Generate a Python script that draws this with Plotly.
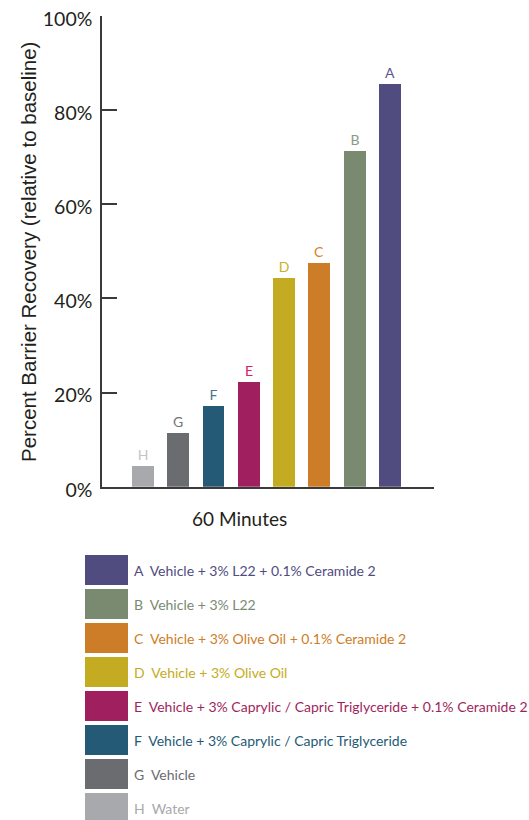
import plotly.graph_objects as go

# ---- data ----
categories = ["H", "G", "F", "E", "D", "C", "B", "A"]
values = [4.5, 11.5, 17.2, 22.2, 44.3, 47.6, 71.3, 85.6]
bar_colors = ["#a8a9ac", "#6b6c70", "#245a75", "#a01f5e", "#c4ac22", "#cd7d27", "#798a70", "#504c80"]
label_colors = ["#c4c5c8", "#737477", "#4a7591", "#d8205f", "#c9b024", "#d6822a", "#8a9a82", "#5a5690"]

legend_keys = ["A", "B", "C", "D", "E", "F", "G", "H"]
legend_texts = [
    "Vehicle + 3% L22 + 0.1% Ceramide 2",
    "Vehicle + 3% L22",
    "Vehicle + 3% Olive Oil + 0.1% Ceramide 2",
    "Vehicle + 3% Olive Oil",
    "Vehicle + 3% Caprylic / Capric Triglyceride + 0.1% Ceramide 2",
    "Vehicle + 3% Caprylic / Capric Triglyceride",
    "Vehicle",
    "Water",
]
legend_colors = ["#504c80", "#798a70", "#cd7d27", "#c4ac22", "#a01f5e", "#245a75", "#6b6c70", "#a8a9ac"]

y_tickvals = [0, 20, 40, 60, 80, 100]
y_ticktext = ["0%", "20%", "40%", "60%", "80%", "100%"]
x_title = "60 Minutes"
y_title = "Percent Barrier Recovery (relative to baseline)"

W, H = 529, 820
FONT = "Lato"
TITLE_FONT = "Liberation Sans"
AX = "#3a3a3a"
TXT = "#231f20"


def px(x):
    return x / W


def py(y):
    return 1 - y / H


fig = go.Figure()

fig.add_trace(go.Bar(
    x=list(range(len(categories))), y=values, width=0.62,
    marker=dict(color=bar_colors, line=dict(width=0)),
    text=categories, textposition="outside",
    textfont=dict(family=FONT, size=14, color=label_colors),
    constraintext="none", cliponaxis=False,
    xaxis="x", yaxis="y", showlegend=False, hoverinfo="skip",
))

# legend as a small horizontal bar subplot
fig.add_trace(go.Bar(
    x=[1] * len(legend_keys), y=list(range(len(legend_keys))), orientation="h",
    width=30 / 34, marker=dict(color=legend_colors, line=dict(width=0)),
    xaxis="x2", yaxis="y2", showlegend=False, hoverinfo="skip",
))

annotations = []
for i, (k, t, c) in enumerate(zip(legend_keys, legend_texts, legend_colors)):
    annotations.append(dict(
        xref="x2", yref="y2", x=1, y=i, xanchor="left", yanchor="middle",
        xshift=4, showarrow=False, text=k + "\u00a0\u00a0" + t,
        font=dict(family=FONT, size=14, color=c),
    ))

annotations.append(dict(
    xref="paper", yref="paper", x=px(239), y=py(518), xanchor="center", yanchor="middle",
    showarrow=False, text=x_title, font=dict(family=FONT, size=19, color=TXT),
))
annotations.append(dict(
    xref="paper", yref="paper", x=px(28), y=py(252), xanchor="center", yanchor="middle",
    showarrow=False, text=y_title, textangle=-90,
    font=dict(family=TITLE_FONT, size=20.5, color=TXT),
))

legend_top = 553
legend_rows = (H - legend_top) / 34

fig.update_layout(
    width=W, height=H,
    margin=dict(l=0, r=0, t=0, b=0, pad=0),
    paper_bgcolor="white", plot_bgcolor="white",
    showlegend=False,
    bargap=0,
    xaxis=dict(
        domain=[px(102), px(434)], range=[-1.16, 8.25], automargin=False,
        showline=True, linecolor=AX, linewidth=1.5,
        ticks="inside", tickvals=[8.24], ticklen=11, tickwidth=1.5, tickcolor=AX,
        showticklabels=False, showgrid=False, zeroline=False, fixedrange=True,
    ),
    yaxis=dict(
        domain=[py(486.7), py(15.7)], range=[0, 100], automargin=False,
        showline=True, linecolor=AX, linewidth=1.5,
        ticks="inside", tickvals=y_tickvals, ticktext=y_ticktext, ticklen=15,
        tickwidth=1.5, tickcolor=AX, ticklabelstandoff=4, ticklabeloverflow="allow",
        ticklabelshift=3,
        tickfont=dict(family=FONT, size=19.5, color=TXT),
        showgrid=False, zeroline=False, fixedrange=True,
    ),
    xaxis2=dict(
        domain=[px(85), px(128)], range=[0, 1], anchor="y2", visible=False,
        automargin=False, fixedrange=True,
    ),
    yaxis2=dict(
        domain=[0, py(legend_top)], range=[-0.5 + legend_rows, -0.5], anchor="x2",
        visible=False, automargin=False, fixedrange=True,
    ),
    annotations=annotations,
)

fig.write_html(
    "out.html",
    config={"displayModeBar": False},
    post_script="document.body.style.margin='0';document.body.style.overflow='hidden';",
)
